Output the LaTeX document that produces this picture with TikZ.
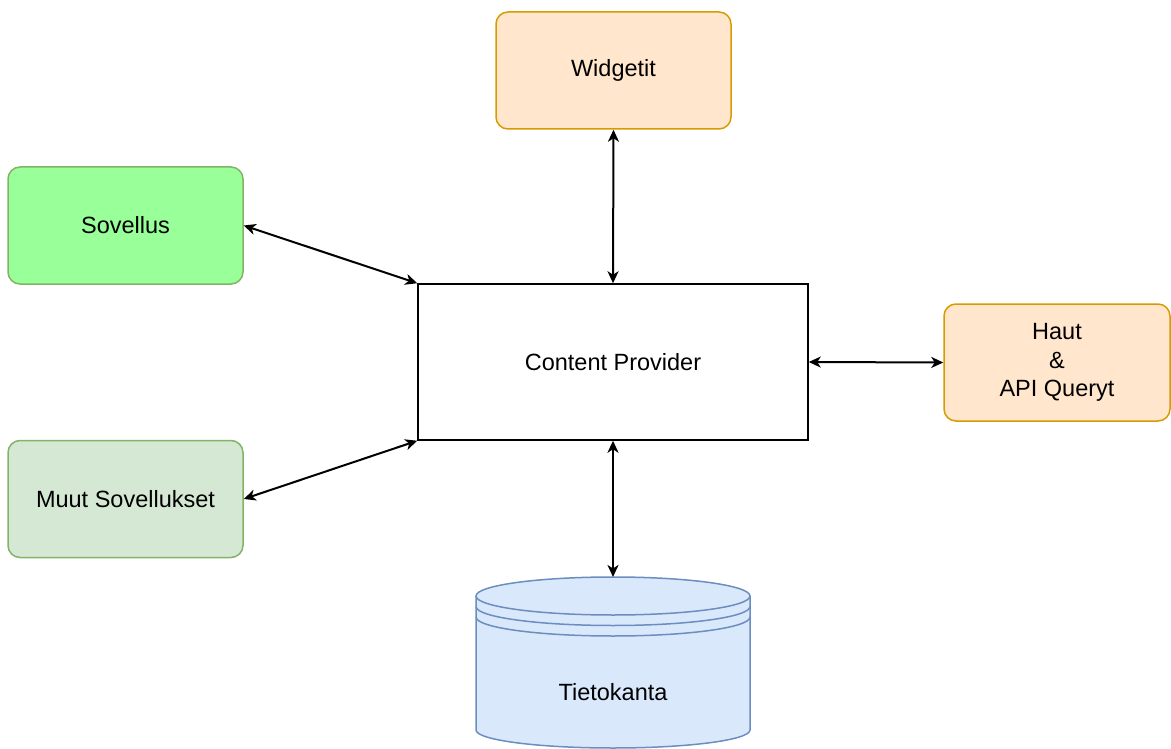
\documentclass[tikz,border=0pt]{standalone}
\usepackage{fontspec}
\setmainfont{Liberation Sans}
\usetikzlibrary{arrows.meta}

\definecolor{orangefill}{HTML}{FFE6CC}
\definecolor{orangeline}{HTML}{D79B00}
\definecolor{greenfill}{HTML}{99FF99}
\definecolor{palegreen}{HTML}{D5E8D4}
\definecolor{greenline}{HTML}{82B366}
\definecolor{bluefill}{HTML}{DAE8FC}
\definecolor{blueline}{HTML}{6C8EBF}

\tikzset{
  box/.style={draw, line width=1.5pt, rounded corners=12pt, minimum width=235pt,
    minimum height=117pt, align=center, inner sep=0pt,
    font=\fontsize{23.5}{28.5}\selectfont},
  link/.style={line width=2pt, {Stealth[length=12pt,width=11pt,inset=3.5pt]}-{Stealth[length=12pt,width=11pt,inset=3.5pt]}}
}

\begin{document}
\begin{tikzpicture}
\useasboundingbox (0pt,0pt) rectangle (1171pt,-749pt);
\node[box, draw=orangeline, fill=orangefill] (widgetit) at (613.5pt,-70.5pt) {Widgetit};
\node[box, draw=greenline, fill=greenfill] (sovellus) at (125.5pt,-225.5pt) {Sovellus};
\node[box, draw=greenline, fill=palegreen] (muut) at (125.5pt,-499pt) {Muut Sovellukset};
\node[box, draw=orangeline, fill=orangefill, minimum width=226pt] (haut) at (1057pt,-362.5pt) {Haut\\\&\\API Queryt};
\node[box, rounded corners=0pt, minimum width=390pt, minimum height=156pt] (provider) at (613pt,-362pt) {Content Provider};
% tietokanta
\filldraw[line width=1.5pt, draw=blueline, fill=bluefill] (476pt,-596pt) -- (476pt,-730pt)
  arc[start angle=180, end angle=360, x radius=137pt, y radius=18pt] -- (750pt,-596pt)
  arc[start angle=0, end angle=180, x radius=137pt, y radius=19pt];
\foreach \dy in {596,606.5,617}
  \draw[line width=1.5pt, blueline] (476pt,-\dy pt) arc[start angle=180, end angle=360, x radius=137pt, y radius=19pt];
\coordinate (kanta) at (613pt,-577pt);
\node[font=\fontsize{23.5}{28.5}\selectfont] (tietokanta) at (613pt,-692pt) {Tietokanta};
% yhteydet
\draw[link] (widgetit.south) -- (provider.north);
\draw[link] (sovellus.east) -- (provider.north west);
\draw[link] (muut.east) -- (provider.south west);
\draw[link] (provider.east) -- (haut.west);
\draw[link] (provider.south) -- (kanta);
\end{tikzpicture}
\end{document}
